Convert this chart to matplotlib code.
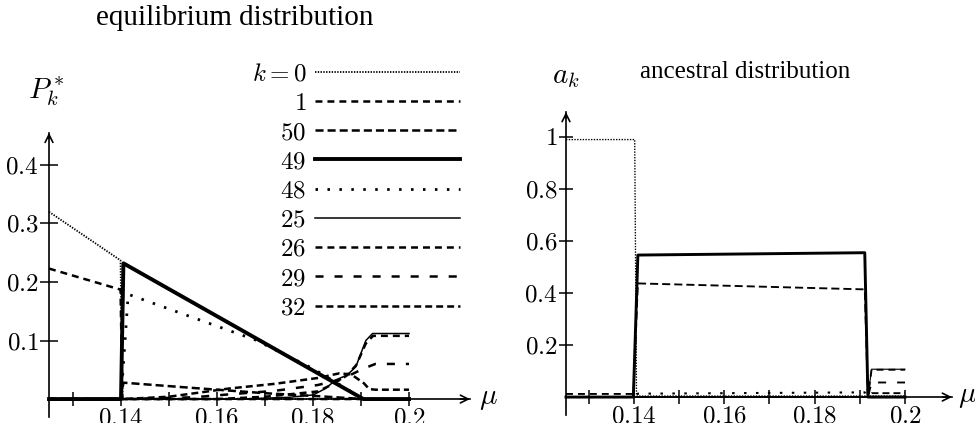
import matplotlib
matplotlib.use('Agg')
import matplotlib.pyplot as plt

plt.rcParams['font.family'] = 'serif'
plt.rcParams['font.serif'] = ['Liberation Serif', 'DejaVu Serif']
plt.rcParams['mathtext.fontset'] = 'cm'
plt.rcParams['lines.scale_dashes'] = False
plt.rcParams['axes.unicode_minus'] = False

# legend order and labels
ks = [0, 1, 50, 49, 48, 25, 26, 29, 32]
k_labels = ['$k=0$', '$1$', '$50$', '$49$', '$48$', '$25$', '$26$', '$29$', '$32$']

# ---- equilibrium distribution P_k^*(mu) ----
eq_mu_0 = [0.125, 0.1399, 0.1403, 0.2]
eq_p_0 = [0.320, 0.237, 0.0, 0.0]

eq_mu_1 = [0.125, 0.1399, 0.1403, 0.2]
eq_p_1 = [0.223, 0.187, 0.0, 0.0]

eq_mu_50 = [0.125, 0.1400, 0.1405, 0.155, 0.170, 0.181, 0.1905, 0.2]
eq_p_50 = [0.0, 0.0, 0.028, 0.019, 0.010, 0.005, 0.0, 0.0]

eq_mu_49 = [0.125, 0.1400, 0.1405, 0.1905, 0.2]
eq_p_49 = [0.0, 0.0, 0.232, 0.0, 0.0]

eq_mu_48 = [0.125, 0.1400, 0.1415, 0.168, 0.180, 0.1905, 0.2]
eq_p_48 = [0.0, 0.0, 0.179, 0.101, 0.052, 0.0, 0.0]

eq_mu_25 = [0.125, 0.165, 0.175, 0.180, 0.1826, 0.1847, 0.1871, 0.1889, 0.191, 0.1924, 0.2]
eq_p_25 = [0.0, 0.0, 0.003, 0.007, 0.018, 0.0325, 0.041, 0.055, 0.100, 0.112, 0.112]

eq_mu_26 = [0.125, 0.160, 0.170, 0.181, 0.184, 0.187, 0.189, 0.191, 0.1925, 0.2]
eq_p_26 = [0.0, 0.0, 0.004, 0.013, 0.025, 0.040, 0.058, 0.095, 0.108, 0.108]

eq_mu_29 = [0.125, 0.1405, 0.155, 0.1625, 0.172, 0.181, 0.1855, 0.188, 0.1905, 0.193, 0.2]
eq_p_29 = [0.0, 0.0, 0.003, 0.008, 0.014, 0.024, 0.033, 0.042, 0.052, 0.060, 0.060]

eq_mu_32 = [0.125, 0.1405, 0.150, 0.1625, 0.172, 0.181, 0.1855, 0.188, 0.1906, 0.1917, 0.193, 0.2]
eq_p_32 = [0.0, 0.0, 0.004, 0.018, 0.026, 0.036, 0.044, 0.042, 0.027, 0.017, 0.016, 0.016]

# ---- ancestral distribution a_k(mu) ----
an_mu_0 = [0.125, 0.1402, 0.1406, 0.2]
an_a_0 = [0.990, 0.990, 0.004, 0.004]

an_mu_1 = [0.125, 0.1399, 0.1405, 0.2]
an_a_1 = [0.012, 0.012, 0.0, 0.0]

an_mu_50 = [0.125, 0.1399, 0.1409, 0.1911, 0.1918, 0.2]
an_a_50 = [0.0, 0.0, 0.437, 0.414, 0.0, 0.0]

an_mu_49 = [0.125, 0.1399, 0.1409, 0.1911, 0.1918, 0.2]
an_a_49 = [0.0, 0.0, 0.546, 0.555, 0.0, 0.0]

an_mu_48 = [0.125, 0.1399, 0.1409, 0.1911, 0.1918, 0.2]
an_a_48 = [0.0, 0.0, 0.013, 0.018, 0.0, 0.0]

an_mu_25 = [0.125, 0.1918, 0.1926, 0.2]
an_a_25 = [0.0, 0.0, 0.107, 0.107]

an_mu_26 = [0.125, 0.1918, 0.1926, 0.2]
an_a_26 = [0.0, 0.0, 0.105, 0.105]

an_mu_29 = [0.125, 0.1918, 0.1926, 0.2]
an_a_29 = [0.0, 0.0, 0.056, 0.056]

an_mu_32 = [0.125, 0.1918, 0.1926, 0.2]
an_a_32 = [0.0, 0.0, 0.015, 0.015]

eq_data = {0: (eq_mu_0, eq_p_0), 1: (eq_mu_1, eq_p_1), 50: (eq_mu_50, eq_p_50),
           49: (eq_mu_49, eq_p_49), 48: (eq_mu_48, eq_p_48), 25: (eq_mu_25, eq_p_25),
           26: (eq_mu_26, eq_p_26), 29: (eq_mu_29, eq_p_29), 32: (eq_mu_32, eq_p_32)}
an_data = {0: (an_mu_0, an_a_0), 1: (an_mu_1, an_a_1), 50: (an_mu_50, an_a_50),
           49: (an_mu_49, an_a_49), 48: (an_mu_48, an_a_48), 25: (an_mu_25, an_a_25),
           26: (an_mu_26, an_a_26), 29: (an_mu_29, an_a_29), 32: (an_mu_32, an_a_32)}

x_ticks = [0.13, 0.14, 0.15, 0.16, 0.17, 0.18, 0.19, 0.2]
x_ticklabels = ['', '$0.14$', '', '$0.16$', '', '$0.18$', '', '$0.2$']

eq_yticks = [0.1, 0.2, 0.3, 0.4]
eq_yticklabels = ['$0.1$', '$0.2$', '$0.3$', '$0.4$']
an_yticks = [0.2, 0.4, 0.6, 0.8, 1.0]
an_yticklabels = ['$0.2$', '$0.4$', '$0.6$', '$0.8$', '$1$']

# line styles (width in pt, dashes in pt)
styles = {
    0: dict(lw=1.3, dashes=(1.0, 1.0)),
    1: dict(lw=1.8, dashes=(5.0, 3.6)),
    50: dict(lw=1.8, dashes=(5.8, 2.9)),
    49: dict(lw=2.8, linestyle='-'),
    48: dict(lw=2.0, dashes=(1.8, 6.8)),
    25: dict(lw=1.1, linestyle='-'),
    26: dict(lw=1.8, dashes=(5.0, 3.6)),
    29: dict(lw=1.8, dashes=(5.8, 7.9)),
    32: dict(lw=1.8, dashes=(5.0, 2.9)),
}

FS = 18


def setup_axis(ax, xmax, ymin, ymax, yticks, yticklabels, ylen):
    ax.set_xlim(0.125, xmax)
    ax.set_ylim(ymin, ymax)
    ax.patch.set_visible(False)
    for s in ['top', 'right']:
        ax.spines[s].set_visible(False)
    ax.spines['bottom'].set_position(('data', 0))
    ax.spines['bottom'].set_bounds(0.125, xmax)
    ax.spines['left'].set_bounds(ymin, ymax)
    for s in ['bottom', 'left']:
        ax.spines[s].set_linewidth(1.2)
    ax.set_xticks(x_ticks)
    ax.set_xticklabels(x_ticklabels)
    ax.set_yticks(yticks)
    ax.set_yticklabels(yticklabels)
    ax.tick_params(axis='x', direction='inout', length=10, width=1.1, labelsize=FS, pad=1.0)
    ax.tick_params(axis='y', direction='inout', length=ylen, width=1.1, labelsize=FS, pad=1.0)
    # arrow heads
    arr = dict(arrowstyle='->', lw=1.2, mutation_scale=14, shrinkA=0, shrinkB=0)
    ax.annotate('', xy=(xmax, 0), xytext=(xmax - 0.002, 0), arrowprops=arr)
    ax.annotate('', xy=(0.125, ymax), xytext=(0.125, ymax - (ymax - ymin) * 0.02), arrowprops=arr)


fig = plt.figure(figsize=(9.75, 4.23), dpi=100)

# left: equilibrium distribution
ax1 = fig.add_axes([49 / 975, 0.0151, (470 - 49) / 975, 0.6710])
setup_axis(ax1, 0.2127, -0.03, 0.455, eq_yticks, eq_yticklabels, 13)
handles = []
for k in ks:
    mu, p = eq_data[k]
    line, = ax1.plot(mu, p, color='black', clip_on=False, **styles[k])
    handles.append(line)

ax1.text(0.1245, 0.525, '$P_k^*$', fontsize=21, ha='center', va='center')
ax1.text(0.2145, 0.0, r'$\mu$', fontsize=21, ha='left', va='center')

leg = ax1.legend(handles, k_labels, markerfirst=False, frameon=False, fontsize=FS,
                 loc='upper right', bbox_to_anchor=(460 / 975, 1 - 63 / 423),
                 bbox_transform=fig.transFigure, borderpad=0, borderaxespad=0,
                 handlelength=5.8, handletextpad=0.35, labelspacing=0.27)

# right: ancestral distribution
ax2 = fig.add_axes([566 / 975, 0.0189, (952 - 566) / 975, 0.7163])
setup_axis(ax2, 0.2104, -0.069, 1.096, an_yticks, an_yticklabels, 10)
for k in ks:
    mu, a = an_data[k]
    st = dict(styles[k])
    st['lw'] = st['lw'] * 0.75
    ax2.plot(mu, a, color='black', clip_on=False, **st)

ax2.text(0.125, 1.23, '$a_k$', fontsize=21, ha='center', va='center')
ax2.text(0.2118, 0.0, r'$\mu$', fontsize=21, ha='left', va='center')

fig.text(235 / 975, 1 - 18 / 423, 'equilibrium distribution', fontsize=21,
         ha='center', va='center')
fig.text(745 / 975, 1 - 72 / 423, 'ancestral distribution', fontsize=18,
         ha='center', va='center')

fig.savefig('out.png', dpi=100)
